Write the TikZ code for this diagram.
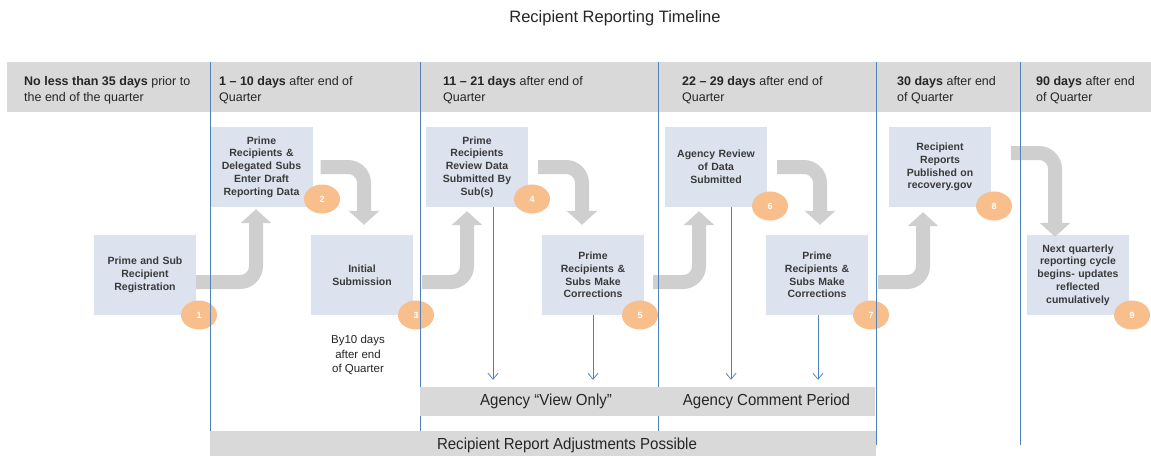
\documentclass[tikz,border=0pt]{standalone}
\usepackage{fontspec}
\setmainfont{Liberation Sans}
\newfontfamily\narrowfont[FakeStretch=0.94]{Liberation Sans}
\usetikzlibrary{arrows.meta,shapes.geometric}
\definecolor{bandgray}{HTML}{D9D9D9}
\definecolor{boxfill}{HTML}{DCE3EF}
\definecolor{arrowgray}{HTML}{CFCFCF}
\definecolor{orangec}{HTML}{F8BF8C}
\definecolor{blueline}{HTML}{4F81BD}
\definecolor{boxtext}{HTML}{3A3A3A}
\definecolor{darktext}{HTML}{262626}
\begin{document}
\begin{tikzpicture}[x=1pt,y=-1pt,
  stepbox/.style={fill=boxfill, minimum width=102pt, minimum height=80pt, text width=98pt, align=center, inner sep=0pt, font=\bfseries\fontsize{10.5}{12.8}\selectfont, text=boxtext},
  numdot/.style={ellipse, fill=orangec, minimum width=36pt, minimum height=29pt, inner sep=0pt, text=white, font=\bfseries\fontsize{9}{10}\selectfont},
  bigarrow/.style={draw=arrowgray, line width=14pt, rounded corners=16pt, -{Triangle[width=30pt,length=14pt]}},
  thinarrow/.style={draw=blueline, line width=0.75pt, shorten >=7pt, -{Straight Barb[length=6pt,width=10pt]}},
  vline/.style={draw=blueline, line width=0.8pt},
  header/.style={anchor=west, align=left, inner sep=0pt, text=darktext, font=\fontsize{12.5}{16}\selectfont},
  barbox/.style={fill=bandgray, inner sep=0pt, text=darktext, font=\narrowfont\fontsize{16}{19}\selectfont}
]
\useasboundingbox (0,0) rectangle (1151,456);

% title
\node[text=darktext, font=\fontsize{16.5}{20}\selectfont] (title) at (615,18) {Recipient Reporting Timeline};

% header band
\fill[bandgray] (7,62) rectangle (1151,112);
\node[header] (h1) at (24,90.5) {\textbf{No less than 35 days} prior to\\the end of the quarter};
\node[header] (h2) at (219,90.5) {\textbf{1 – 10 days} after end of\\Quarter};
\node[header] (h3) at (443,90.5) {\textbf{11 – 21 days} after end of\\Quarter};
\node[header] (h4) at (682,90.5) {\textbf{22 – 29 days} after end of\\Quarter};
\node[header] (h5) at (897,90.5) {\textbf{30 days} after end\\of Quarter};
\node[header] (h6) at (1036,90.5) {\textbf{90 days} after end\\of Quarter};

% step boxes
\node[stepbox] (b1) at (145,275) {Prime and Sub\\Recipient\\Registration};
\node[stepbox] (b2) at (261.5,167) {Prime\\Recipients \&\\Delegated Subs\\Enter Draft\\Reporting Data};
\node[stepbox] (b3) at (362,275) {Initial\\Submission};
\node[stepbox] (b4) at (477,167) {Prime\\Recipients\\Review Data\\Submitted By\\Sub(s)};
\node[stepbox] (b5) at (593,275) {Prime\\Recipients \&\\Subs Make\\Corrections};
\node[stepbox] (b6) at (716,167) {Agency Review\\of Data\\Submitted};
\node[stepbox] (b7) at (817,275) {Prime\\Recipients \&\\Subs Make\\Corrections};
\node[stepbox] (b8) at (940,167) {Recipient\\Reports\\Published on\\recovery.gov};
\node[stepbox] (b9) at (1078,275) {Next quarterly\\reporting cycle\\begins- updates\\reflected\\cumulatively};

% bent gray arrows
\draw[bigarrow] ([yshift=-7pt]b1.east) -| ([shift={(-5.5pt,-2pt)}]b2.south);
\draw[bigarrow] ([xshift=8pt]b2.east) -| ([shift={(2pt,10pt)}]b3.north);
\draw[bigarrow] ([shift={(9pt,-7pt)}]b3.east) -| ([shift={(-10pt,-4pt)}]b4.south);
\draw[bigarrow] ([xshift=10pt]b4.east) -| ([shift={(-11pt,10pt)}]b5.north);
\draw[bigarrow] ([shift={(9pt,-7pt)}]b5.east) -| ([shift={(-17pt,-4pt)}]b6.south);
\draw[bigarrow] ([xshift=10pt]b6.east) -| ([shift={(3pt,10pt)}]b7.north);
\draw[bigarrow] ([shift={(10pt,-7pt)}]b7.east) -| ([shift={(-17pt,-5pt)}]b8.south);
\draw[bigarrow] ([shift={(20pt,14pt)}]b8.east) -| ([shift={(-23pt,-2pt)}]b9.north);

% number dots
\node[numdot] (c1) at (199,315) {1};
\node[numdot] (c2) at (322,199) {2};
\node[numdot] (c3) at (416,315) {3};
\node[numdot] (c4) at (532,199) {4};
\node[numdot] (c5) at (640,315) {5};
\node[numdot] (c6) at (770,206) {6};
\node[numdot] (c7) at (871,315) {7};
\node[numdot] (c8) at (994,206) {8};
\node[numdot] (c9) at (1132,315) {9};

% note
\node[align=center, text=darktext, font=\fontsize{11.5}{14.5}\selectfont] (note) at (358,355) {By10 days\\after end\\of Quarter};

% vertical period lines
\draw[vline] (210,62) -- (210,431);
\draw[vline] (420,62) -- (420,431);
\draw[vline] (658,62) -- (658,431);
\draw[vline] (876,62) -- (876,445);
\draw[vline] (1020,62) -- (1020,445);

% bars
\node[barbox, minimum width=238pt, minimum height=29pt] (va) at (539,401.5) {\hspace*{14pt}Agency “View Only”};
\node[barbox, minimum width=217pt, minimum height=29pt] (vc) at (766.5,401.5) {Agency Comment Period};
\node[barbox, minimum width=666pt, minimum height=25pt] (rb) at (543,443.5) {};
\node[text=darktext, inner sep=0pt, font=\narrowfont\fontsize{16}{19}\selectfont] (rbt) at (567,445) {Recipient Report Adjustments Possible};

% thin blue arrows
\coordinate (t4) at ([xshift=16pt]b4.south);
\coordinate (t5) at (b5.south);
\coordinate (t6) at ([xshift=15pt]b6.south);
\coordinate (t7) at ([xshift=1pt]b7.south);
\draw[thinarrow] (t4) -- (t4 |- va.north);
\draw[thinarrow] (t5) -- (t5 |- va.north);
\draw[thinarrow] (t6) -- (t6 |- vc.north);
\draw[thinarrow] (t7) -- (t7 |- vc.north);
\end{tikzpicture}
\end{document}
